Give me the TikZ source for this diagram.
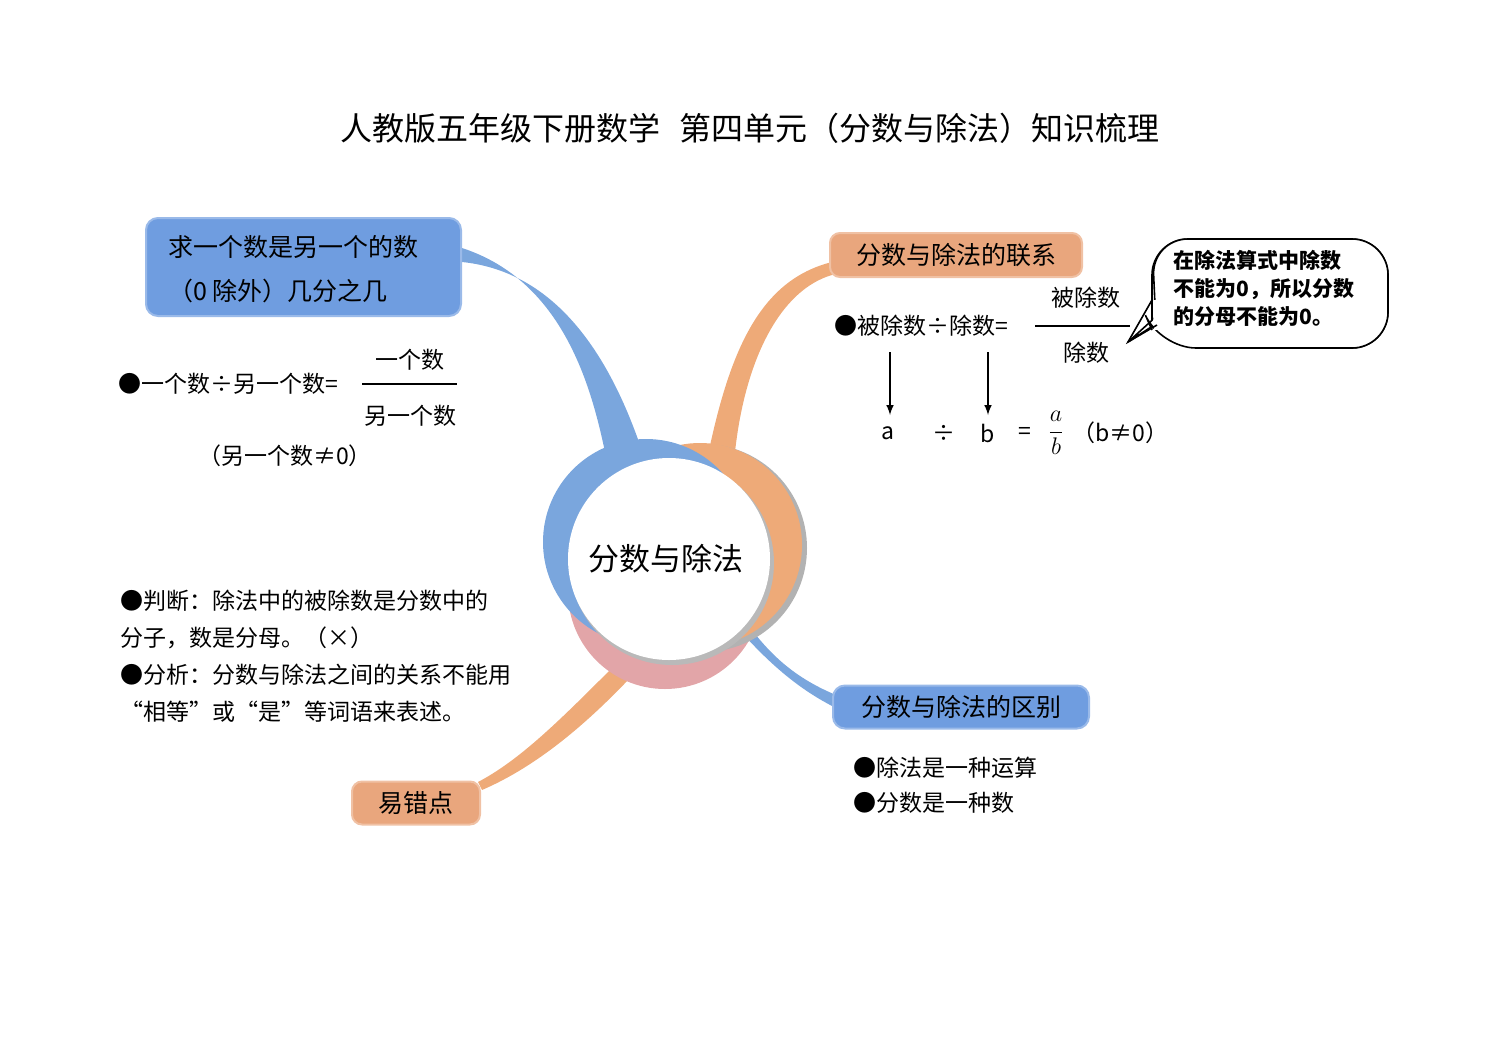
\documentclass[tikz,border=0pt]{standalone}
\usepackage{fontspec}
\setmainfont{Noto Sans CJK SC}
\usetikzlibrary{shapes.callouts}
\definecolor{bl}{HTML}{7AA6DD}
\definecolor{blbox}{HTML}{6F9DE0}
\definecolor{orb}{HTML}{EEAA78}
\definecolor{orbox}{HTML}{E9A67D}
\definecolor{pk}{HTML}{E2A5A8}
\tikzset{
 px/.style={x=0.5pt,y=-0.5pt},
 txt/.style={font=\fontsize{11.5}{14}\selectfont,inner sep=0pt},
 bbox/.style={draw=blbox!70!white,line width=1pt,fill=blbox,rounded corners=6pt,inner sep=0pt},
 obox/.style={draw=orbox!70!white,line width=1pt,fill=orbox,rounded corners=5pt,inner sep=0pt},
}
\begin{document}
\begin{tikzpicture}[px]
\useasboundingbox (0,0) rectangle (1500,1060);
\node[font=\fontsize{16}{18}\selectfont] (title) at (750,128) {人教版五年级下册数学\hspace{0.6em}第四单元（分数与除法）知识梳理};
% branches
\fill[bl] (462,248) .. controls (560,280) and (590,380) .. (605,452) -- (640,445) .. controls (600,330) and (540,270) .. (462,262) -- cycle;
\fill[orb] (832,262) .. controls (760,280) and (730,350) .. (708,455) -- (735,452) .. controls (745,360) and (780,290) .. (832,275) -- cycle;
\fill[bl] (735,625) .. controls (770,665) and (800,690) .. (836,708) -- (836,695) .. controls (800,680) and (775,660) .. (752,630) -- cycle;
\fill[orb] (612,668) .. controls (560,720) and (520,760) .. (478,782) -- (482,790) .. controls (540,765) and (590,720) .. (630,678) -- cycle;
% centre
\fill[pk] (665,592) circle (97);
\fill[gray!60] (703,548) circle (104);
\fill[orb] (700,545) circle (102);
\fill[bl] (646,542) circle (103);
\fill[gray!55] (672,563) circle (102);
\fill[white] (669,559) circle (101);
\node[txt,font=\fontsize{15.5}{18}\selectfont] (c) at (666,559) {分数与除法};
% boxes
\path[bbox] (146,218) rectangle (461,316);
\node[txt,anchor=west,font=\fontsize{12.5}{15}\selectfont] (b1a) at (168,247) {求一个数是另一个的数};
\node[txt,anchor=west,font=\fontsize{12.5}{15}\selectfont] (b1b) at (168,291) {（0 除外）几分之几};
\node[obox,minimum width=126pt,minimum height=22pt,font=\fontsize{12.5}{15}\selectfont] (b2) at (956,255) {分数与除法的联系};
\node[bbox,minimum width=128pt,minimum height=21.5pt,font=\fontsize{12.5}{15}\selectfont] (b3) at (961,707) {分数与除法的区别};
\node[obox,minimum width=64pt,minimum height=21.5pt,font=\fontsize{12.5}{15}\selectfont] (b4) at (416,803) {易错点};
% left formula
\node[txt,anchor=west] (f1) at (118,384) {●一个数÷另一个数=};
\node[txt] (f1n) at (410,360) {一个数};
\node[txt] (f1d) at (410,416) {另一个数};
\draw[line width=0.6pt] (362,384) coordinate (l1) -- (457,384) coordinate (l2);
\node[txt] (f1c) at (285,456) {（另一个数≠0）};
% right formula
\node[txt,anchor=west] (f2) at (834,326) {●被除数÷除数=};
\node[txt] (f2n) at (1086,298) {被除数};
\node[txt] (f2d) at (1086,353) {除数};
\draw[line width=0.6pt] (1035,326) coordinate (l3) -- (1130,326) coordinate (l4);
\node[txt] (va) at (888,433) {a};
\node[txt] (vd) at (944,433) {÷};
\node[txt] (vb) at (988,433) {b};
\node[txt] (ve) at (1025,433) {=};
\node[txt] (vf) at (1056,433) {$\displaystyle\frac{a}{b}$};
\node[txt] (vc) at (1120,433) {（b≠0）};
\coordinate (a1) at (890,352); \coordinate (a2) at (890,415);
\coordinate (a3) at (988,352); \coordinate (a4) at (988,415);
\draw[-latex,line width=0.7pt] (a1) -- (a2);
\draw[-latex,line width=0.7pt] (a3) -- (a4);
% callout
\draw[line width=0.8pt,rounded corners=18pt] (1180,322) -- (1180,348) -- (1388,348) -- (1388,239) -- (1152,239) -- (1152,322) coordinate (q);
\draw[line width=0.8pt,fill=white] (1180,295) -- (1128,342) -- (1165,318);
\draw[line width=0.8pt,rounded corners=18pt,fill=white] (1155,305) -- (1152,239) -- (1388,239) -- (1388,348) -- (1160,348) -- (1152,330) ;
\fill[white] (1154,300) rectangle (1175,330);
\draw[line width=0.8pt] (1152,300) -- (1128,342) -- (1157,325);
\node[txt,align=left,anchor=north west,font=\fontsize{10.5}{14}\selectfont\bfseries] (cl) at (1173,250) {在除法算式中除数\\不能为0，所以分数\\的分母不能为0。};
% bottom texts
\node[txt,anchor=west,align=left,font=\fontsize{11.5}{18.5}\selectfont] (e1) at (120,656) {●判断：除法中的被除数是分数中的\\分子，数是分母。（×）\\●分析：分数与除法之间的关系不能用\\“相等”或“是”等词语来表述。};
\node[txt,anchor=west,align=left,font=\fontsize{11.5}{17.5}\selectfont] (d1) at (853,785) {●除法是一种运算\\●分数是一种数};
\end{tikzpicture}
\end{document}
